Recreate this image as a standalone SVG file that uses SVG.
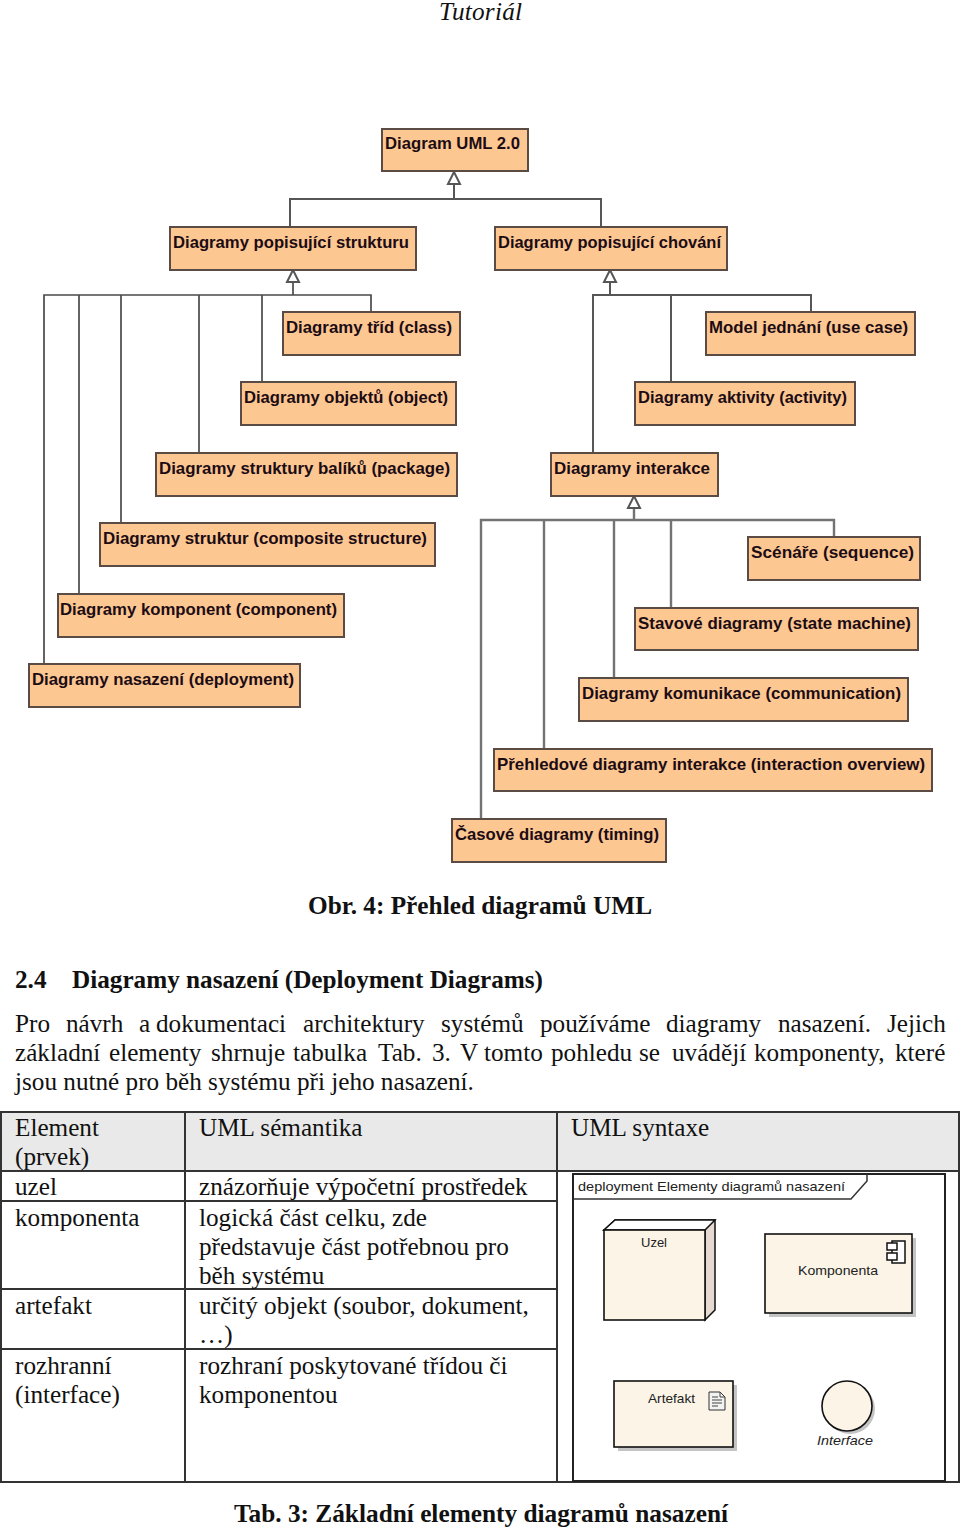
<svg xmlns="http://www.w3.org/2000/svg" width="960" height="1527" viewBox="0 0 960 1527">
<style>
text{font-family:"Liberation Serif","Times New Roman",serif;font-size:25.2px;fill:#111}
.b{font-weight:bold}
.n rect{fill:#fdc792;stroke:#5a4c44;stroke-width:2}
.n text{font-family:"Liberation Sans",Arial,sans-serif;font-weight:bold;font-size:17px;fill:#1c0c14}
.c path{fill:none;stroke:#565656;stroke-width:2}
.c .d{stroke:#4a4a4a;stroke-width:1.700}
.c .l{stroke:#737373;stroke-width:2.400}
.t{fill:none;stroke:#333;stroke-width:2}
.s text{font-family:"Liberation Sans",Arial,sans-serif;font-size:13.5px;fill:#222}
.f{fill:#fbf4e7;stroke:#111;stroke-width:1.600}
.sh{fill:#c4c4c4}
</style>
<defs>
<marker id="gen" markerUnits="userSpaceOnUse" markerWidth="16" markerHeight="16" refX="13" refY="8" orient="auto">
<path d="M13 8L1 2V14Z" fill="#fff" stroke="#565656" stroke-width="2"/>
</marker>
</defs>
<rect width="960" height="1527" fill="#fff"/>
<text x="439" y="20" font-style="italic" textLength="83">Tutoriál</text>
<g id="connectors" class="c">
<path d="M454 199V172" marker-end="url(#gen)"/>
<path d="M290 227V199H601V227"/>
<path class="d" d="M293 295V270" marker-end="url(#gen)"/>
<path class="d" d="M44 664V295H371V312M79 295V594M121 295V523M199 295V453M262 295V382"/>
<path d="M610 295V270" marker-end="url(#gen)"/>
<path d="M593 453V295H811V312M671 295V382"/>
<path class="l" d="M634 520V496" marker-end="url(#gen)"/>
<path class="l" d="M481 819V520H834V537M544 520V749M614 520V678M671 520V608"/>
</g>
<g id="n-root" class="n"><rect x="382" y="129" width="146" height="42"/><text x="385" y="149" textLength="135" lengthAdjust="spacingAndGlyphs">Diagram UML 2.0</text></g>
<g id="n-struct" class="n"><rect x="170" y="227" width="246" height="43"/><text x="173" y="248" textLength="236" lengthAdjust="spacingAndGlyphs">Diagramy popisující strukturu</text></g>
<g id="n-behav" class="n"><rect x="495" y="227" width="232" height="43"/><text x="498" y="248" textLength="223" lengthAdjust="spacingAndGlyphs">Diagramy popisující chování</text></g>
<g id="n-class" class="n"><rect x="283" y="312" width="177" height="43"/><text x="286" y="333" textLength="166" lengthAdjust="spacingAndGlyphs">Diagramy tříd (class)</text></g>
<g id="n-object" class="n"><rect x="241" y="382" width="215" height="43"/><text x="244" y="403" textLength="204" lengthAdjust="spacingAndGlyphs">Diagramy objektů (object)</text></g>
<g id="n-package" class="n"><rect x="156" y="453" width="301" height="43"/><text x="159" y="474" textLength="291" lengthAdjust="spacingAndGlyphs">Diagramy struktury balíků (package)</text></g>
<g id="n-composite" class="n"><rect x="100" y="523" width="335" height="43"/><text x="103" y="544" textLength="324" lengthAdjust="spacingAndGlyphs">Diagramy struktur (composite structure)</text></g>
<g id="n-component" class="n"><rect x="58" y="594" width="286" height="43"/><text x="60" y="615" textLength="277" lengthAdjust="spacingAndGlyphs">Diagramy komponent (component)</text></g>
<g id="n-deployment" class="n"><rect x="29" y="664" width="271" height="43"/><text x="32" y="685" textLength="262" lengthAdjust="spacingAndGlyphs">Diagramy nasazení (deployment)</text></g>
<g id="n-usecase" class="n"><rect x="706" y="312" width="209" height="43"/><text x="709" y="333" textLength="199" lengthAdjust="spacingAndGlyphs">Model jednání (use case)</text></g>
<g id="n-activity" class="n"><rect x="635" y="382" width="220" height="43"/><text x="638" y="403" textLength="209" lengthAdjust="spacingAndGlyphs">Diagramy aktivity (activity)</text></g>
<g id="n-interaction" class="n"><rect x="551" y="453" width="167" height="43"/><text x="554" y="474" textLength="156" lengthAdjust="spacingAndGlyphs">Diagramy interakce</text></g>
<g id="n-sequence" class="n"><rect x="748" y="537" width="172" height="43"/><text x="751" y="558" textLength="163" lengthAdjust="spacingAndGlyphs">Scénáře (sequence)</text></g>
<g id="n-state" class="n"><rect x="635" y="608" width="283" height="42"/><text x="638" y="629" textLength="273" lengthAdjust="spacingAndGlyphs">Stavové diagramy (state machine)</text></g>
<g id="n-communication" class="n"><rect x="579" y="678" width="329" height="43"/><text x="582" y="699" textLength="319" lengthAdjust="spacingAndGlyphs">Diagramy komunikace (communication)</text></g>
<g id="n-overview" class="n"><rect x="494" y="749" width="438" height="42"/><text x="497" y="770" textLength="428" lengthAdjust="spacingAndGlyphs">Přehledové diagramy interakce (interaction overview)</text></g>
<g id="n-timing" class="n"><rect x="452" y="819" width="214" height="43"/><text x="455" y="840" textLength="204" lengthAdjust="spacingAndGlyphs">Časové diagramy (timing)</text></g>
<text class="b" x="308" y="914" textLength="344" lengthAdjust="spacingAndGlyphs">Obr. 4: Přehled diagramů UML</text>
<text class="b" x="15" y="988">2.4</text>
<text class="b" x="72" y="988" textLength="471" lengthAdjust="spacingAndGlyphs">Diagramy nasazení (Deployment Diagrams)</text>
<text y="1032"><tspan x="15">Pro</tspan><tspan x="66">návrh</tspan><tspan x="139">a</tspan><tspan x="156">dokumentaci</tspan><tspan x="303">architektury</tspan><tspan x="441">systémů</tspan><tspan x="540">používáme</tspan><tspan x="666">diagramy</tspan><tspan x="778">nasazení.</tspan><tspan x="887">Jejich</tspan></text>
<text y="1061"><tspan x="15">základní</tspan><tspan x="109">elementy</tspan><tspan x="211">shrnuje</tspan><tspan x="293">tabulka</tspan><tspan x="378">Tab.</tspan><tspan x="432">3.</tspan><tspan x="460">V</tspan><tspan x="484">tomto</tspan><tspan x="551">pohledu</tspan><tspan x="639">se</tspan><tspan x="672">uvádějí</tspan><tspan x="754">komponenty,</tspan><tspan x="895">které</tspan></text>
<text x="15" y="1090">jsou nutné pro běh systému při jeho nasazení.</text>
<g id="table">
<rect x="1" y="1112" width="958" height="59" fill="#e9e9e9"/>
<path class="t" d="M1 1112H959V1482H1ZM185 1112V1482M557 1112V1482M1 1171H959M1 1201H557M1 1289H557M1 1349H557"/>
<text x="15" y="1136">Element</text><text x="15" y="1165">(prvek)</text>
<text x="199" y="1136">UML sémantika</text><text x="571" y="1136">UML syntaxe</text>
<text x="15" y="1195">uzel</text><text x="199" y="1195">znázorňuje výpočetní prostředek</text>
<text x="15" y="1226">komponenta</text><text x="199" y="1226">logická část celku, zde</text>
<text x="199" y="1255">představuje část potřebnou pro</text><text x="199" y="1284">běh systému</text>
<text x="15" y="1314">artefakt</text><text x="199" y="1314">určitý objekt (soubor, dokument,</text><text x="199" y="1343">…)</text>
<text x="15" y="1374">rozhranní</text><text x="199" y="1374">rozhraní poskytované třídou či</text>
<text x="15" y="1403">(interface)</text><text x="199" y="1403">komponentou</text>
</g>
<g id="syntax" class="s">
<rect x="573" y="1174" width="372" height="307" fill="#fff" stroke="#222" stroke-width="2"/>
<path d="M573 1199H851L867 1181V1174" fill="none" stroke="#333" stroke-width="1.500"/>
<text x="578" y="1191" textLength="267" lengthAdjust="spacingAndGlyphs">deployment Elementy diagramů nasazení</text>
<g id="uzel">
<path d="M604 1230L615 1220H715V1310L705 1320V1230Z" fill="#e5d9d2" stroke="#111" stroke-width="1.500"/>
<path d="M604 1230L615 1220H715L705 1230Z" fill="#fff" stroke="#111" stroke-width="1.500"/>
<rect class="f" x="604" y="1230" width="101" height="90"/>
<text x="641" y="1247" textLength="26" lengthAdjust="spacingAndGlyphs">Uzel</text>
</g>
<g id="komponenta">
<rect class="sh" x="769" y="1238" width="147" height="79"/>
<rect class="f" x="765" y="1234" width="147" height="79"/>
<rect x="892" y="1241" width="13" height="22" fill="#fff" stroke="#111" stroke-width="1.500"/>
<rect x="887" y="1243" width="10" height="7" fill="#fff" stroke="#111" stroke-width="1.500"/>
<rect x="887" y="1253" width="10" height="7" fill="#fff" stroke="#111" stroke-width="1.500"/>
<text x="798" y="1275" textLength="80" lengthAdjust="spacingAndGlyphs">Komponenta</text>
</g>
<g id="artefakt">
<rect class="sh" x="618" y="1385" width="119" height="66"/>
<rect class="f" x="614" y="1381" width="119" height="66"/>
<path d="M709 1392H720L725 1397V1410H709Z" fill="#f2f2f2" stroke="#333"/>
<path d="M720 1392V1397H725M712 1397H718M712 1400H722M712 1403H722M712 1406H718" fill="none" stroke="#444"/>
<text x="648" y="1403" textLength="47" lengthAdjust="spacingAndGlyphs">Artefakt</text>
</g>
<g id="interface">
<circle class="sh" cx="850" cy="1409" r="25"/>
<circle class="f" cx="847" cy="1406" r="25"/>
<text x="817" y="1445" font-style="italic" textLength="56" lengthAdjust="spacingAndGlyphs">Interface</text>
</g>
</g>
<text class="b" x="234" y="1522" textLength="494" lengthAdjust="spacingAndGlyphs">Tab. 3: Základní elementy diagramů nasazení</text>
</svg>
